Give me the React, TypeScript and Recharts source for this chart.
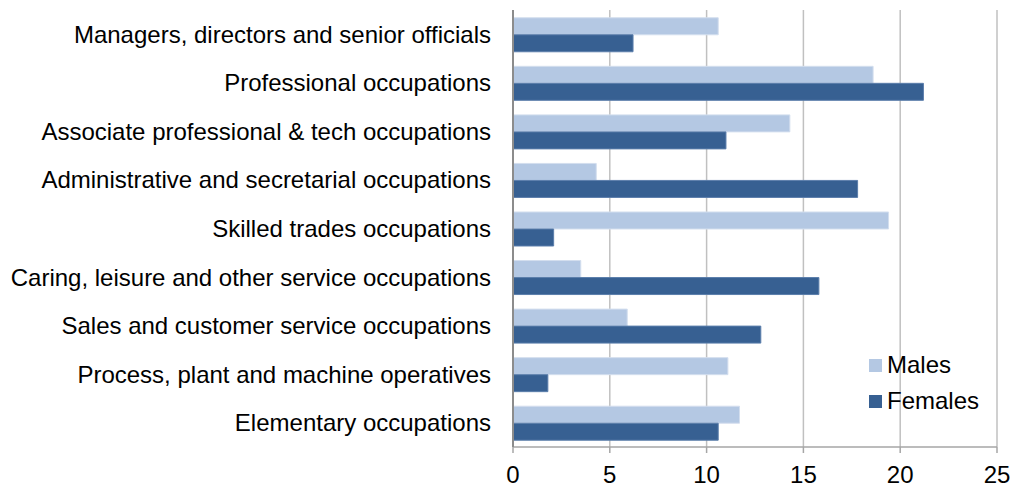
import React from "react";
import { BarChart, Bar, XAxis, YAxis, CartesianGrid, Legend } from "recharts";

const categories = [
  "Managers, directors and senior officials",
  "Professional occupations",
  "Associate professional & tech occupations",
  "Administrative and secretarial occupations",
  "Skilled trades occupations",
  "Caring, leisure and other service occupations",
  "Sales and customer service occupations",
  "Process, plant and machine operatives",
  "Elementary occupations",
];
const males = [10.6, 18.6, 14.3, 4.3, 19.4, 3.5, 5.9, 11.1, 11.7];
const females = [6.2, 21.2, 11.0, 17.8, 2.1, 15.8, 12.8, 1.8, 10.6];
const xTicks = [0, 5, 10, 15, 20, 25];
const seriesOrder = ["Males", "Females"];

const data = categories.map((c, i) => ({ name: c, Males: males[i], Females: females[i] }));

const FONT = "'Liberation Sans', Arial, Helvetica, sans-serif";

const LegendContent = (props: any) => {
  const payload = [...(props.payload || [])].sort(
    (a: any, b: any) => seriesOrder.indexOf(a.value) - seriesOrder.indexOf(b.value)
  );
  return (
    <div style={{ fontFamily: FONT, fontSize: 24, color: "#000", lineHeight: "36px" }}>
      {payload.map((p: any) => (
        <div key={p.value} style={{ display: "flex", alignItems: "center", height: 36 }}>
          <div style={{ width: 13, height: 13, background: p.color, marginRight: 5 }} />
          <span>{p.value}</span>
        </div>
      ))}
    </div>
  );
};

export default function App() {
  return (
    <div style={{ position: "absolute", left: 0, top: 0, width: 1014, height: 488, background: "#fff" }}>
      <BarChart
        width={1014}
        height={488}
        data={data}
        layout="vertical"
        margin={{ top: 10, right: 17, bottom: 0, left: 0 }}
        barCategoryGap="16%"
        barGap={0}
      >
        <CartesianGrid horizontal={false} vertical={true} stroke="#c0c0c0" strokeWidth={1.5} />
        <XAxis
          type="number"
          domain={[0, 25]}
          ticks={xTicks}
          interval={0}
          height={41}
          stroke="#a6a6a6"
          strokeWidth={1.5}
          tickSize={6}
          tickMargin={13}
          tick={{ fill: "#000", fontSize: 24, fontFamily: FONT }}
        />
        <YAxis
          type="category"
          dataKey="name"
          width={513}
          interval={0}
          stroke="#8c8c8c"
          strokeWidth={2}
          tickLine={false}
          tickSize={0}
          tickMargin={22}
          tick={{ fill: "#000", fontSize: 24, fontFamily: FONT }}
        />
        <Legend
          layout="horizontal"
          verticalAlign="bottom"
          content={<LegendContent />}
          wrapperStyle={{ position: "absolute", left: 869, top: 347, width: 140, height: 0, overflow: "visible" }}
        />
        <Bar dataKey="Males" fill="#b4c8e3" stroke="#d3deee" strokeWidth={1} isAnimationActive={false} />
        <Bar dataKey="Females" fill="#376092" stroke="#5b7eab" strokeWidth={1} isAnimationActive={false} />
      </BarChart>
    </div>
  );
}
